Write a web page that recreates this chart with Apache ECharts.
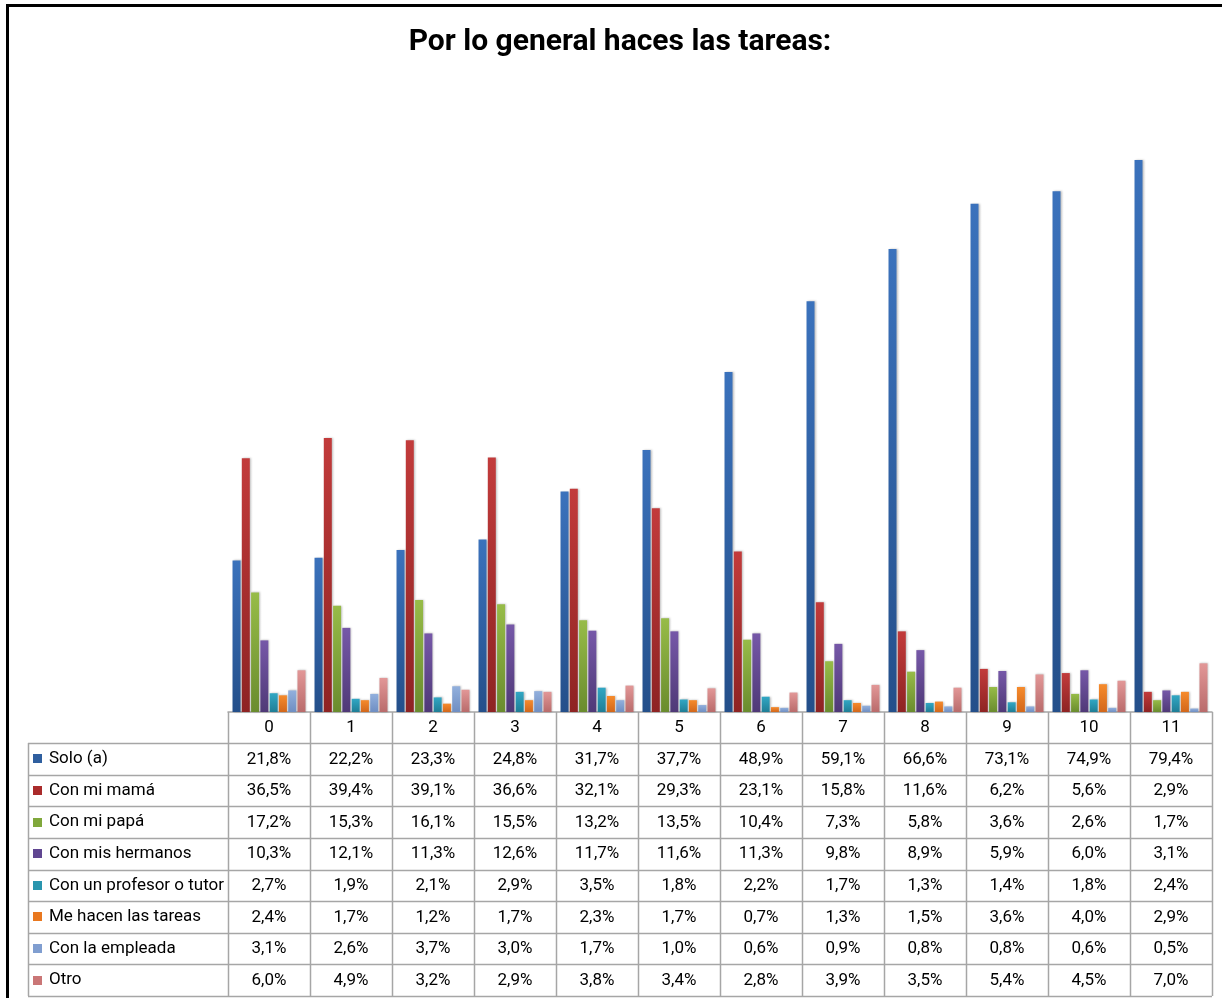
<!DOCTYPE html>
<html>
<head>
<meta charset="utf-8">
<script src="https://cdn.jsdelivr.net/npm/echarts@6/dist/echarts.min.js"></script>
<style>
html,body{margin:0;padding:0;background:#fff;}
#chart{width:1222px;height:998px;}
</style>
</head>
<body>
<div id="chart"></div>
<script>
const categories = ['0','1','2','3','4','5','6','7','8','9','10','11'];
const seriesNames = ['Solo (a)','Con mi mamá','Con mi papá','Con mis hermanos','Con un profesor o tutor','Me hacen las tareas','Con la empleada','Otro'];
const solo      = [21.8,22.2,23.3,24.8,31.7,37.7,48.9,59.1,66.6,73.1,74.9,79.4];
const mama      = [36.5,39.4,39.1,36.6,32.1,29.3,23.1,15.8,11.6,6.2,5.6,2.9];
const papa      = [17.2,15.3,16.1,15.5,13.2,13.5,10.4,7.3,5.8,3.6,2.6,1.7];
const hermanos  = [10.3,12.1,11.3,12.6,11.7,11.6,11.3,9.8,8.9,5.9,6.0,3.1];
const profesor  = [2.7,1.9,2.1,2.9,3.5,1.8,2.2,1.7,1.3,1.4,1.8,2.4];
const meHacen   = [2.4,1.7,1.2,1.7,2.3,1.7,0.7,1.3,1.5,3.6,4.0,2.9];
const empleada  = [3.1,2.6,3.7,3.0,1.7,1.0,0.6,0.9,0.8,0.8,0.6,0.5];
const otro      = [6.0,4.9,3.2,2.9,3.8,3.4,2.8,3.9,3.5,5.4,4.5,7.0];

const allSeries = [solo, mama, papa, hermanos, profesor, meHacen, empleada, otro];
// gradient top / bottom colours and legend key colours
const topColors = ['#3B72BC','#C23B3B','#97BC48','#7658A8','#31A7C4','#F68B2C','#92B0DD','#E29797'];
const botColors = ['#244F8A','#8E2323','#6A8C2E','#4F3977','#1F7E96','#D2671B','#6F8EC2','#B96B6B'];
const keyColors = ['#2F5F9F','#AA2B2B','#80A83B','#604691','#2995AE','#E9781F','#809ED0','#CA7676'];

const FONT = 'Roboto,"Noto Sans",sans-serif';
const fmt = v => v.toFixed(1).replace('.', ',') + '%';

const chart = echarts.init(document.getElementById('chart'));

// layout
const gridL = 228, gridR = 1212, axisY = 712, headerH = 31, rowH = 31.625, tableL = 28;
const rowTop = axisY + headerH;
const tableBottom = rowTop + rowH * seriesNames.length;
const catW = (gridR - gridL) / categories.length;

const graphics = [];
const lineStyle = {stroke:'#A6A6A6', lineWidth:1.5};
// frame
graphics.push({type:'line', shape:{x1:7.5,y1:5,x2:7.5,y2:998}, style:{stroke:'#000',lineWidth:3}, z:100});
graphics.push({type:'line', shape:{x1:6,y1:5.5,x2:1222,y2:5.5}, style:{stroke:'#000',lineWidth:3}, z:100});
// table horizontal lines
for (let k = 0; k <= seriesNames.length; k++) {
  const y = Math.round(rowTop + k * rowH) + 0.5;
  graphics.push({type:'line', shape:{x1:tableL,y1:y,x2:gridR,y2:y}, style:lineStyle, z:50});
}
// vertical lines
for (let i = 0; i <= categories.length; i++) {
  const x = Math.round(gridL + i * catW) + 0.5;
  graphics.push({type:'line', shape:{x1:x,y1:axisY,x2:x,y2:tableBottom}, style:lineStyle, z:50});
}
graphics.push({type:'line', shape:{x1:tableL+0.5,y1:rowTop,x2:tableL+0.5,y2:tableBottom}, style:lineStyle, z:50});
// legend keys + names
seriesNames.forEach((n, k) => {
  const cy = rowTop + k * rowH + rowH / 2;
  graphics.push({type:'rect', shape:{x:33,y:Math.round(cy-4.5),width:9,height:9}, style:{fill:keyColors[k]}, z:60});
  graphics.push({type:'text', x:49, y:cy, style:{text:n, font:'17px ' + FONT, fill:'#000', verticalAlign:'middle', align:'left'}, z:60});
});

const option = {
  animation:false,
  backgroundColor:'#fff',
  title:{
    text:'Por lo general haces las tareas:',
    left:615, top:22, textAlign:'center',
    textStyle:{fontFamily:FONT, fontWeight:'bold', fontSize:30, color:'#000'}
  },
  grid:{left:gridL, right:1222-gridR, top:axisY - 695.2, bottom:998-axisY, containLabel:false},
  xAxis:{
    type:'category', data:categories,
    axisLine:{show:true, lineStyle:{color:'#A6A6A6', width:1.5}},
    axisTick:{show:false},
    axisLabel:{
      margin:0, interval:0, color:'#000', fontFamily:FONT, fontSize:17, lineHeight:31.6,
      formatter:(v, i) => [v].concat(allSeries.map(s => fmt(s[i]))).join('\n')
    }
  },
  yAxis:{type:'value', min:0, max:100, show:false, splitLine:{show:false}},
  series: seriesNames.map((n, k) => ({
    name:n, type:'bar', data:allSeries[k], barWidth:8, barGap:'16%',
    itemStyle:{
      color:new echarts.graphic.LinearGradient(0,0,0,1,[{offset:0,color:topColors[k]},{offset:1,color:botColors[k]}]),
      shadowColor:'rgba(0,0,0,0.25)', shadowBlur:2, shadowOffsetX:1
    }
  })),
  graphic:graphics
};
chart.setOption(option);
</script>
</body>
</html>
